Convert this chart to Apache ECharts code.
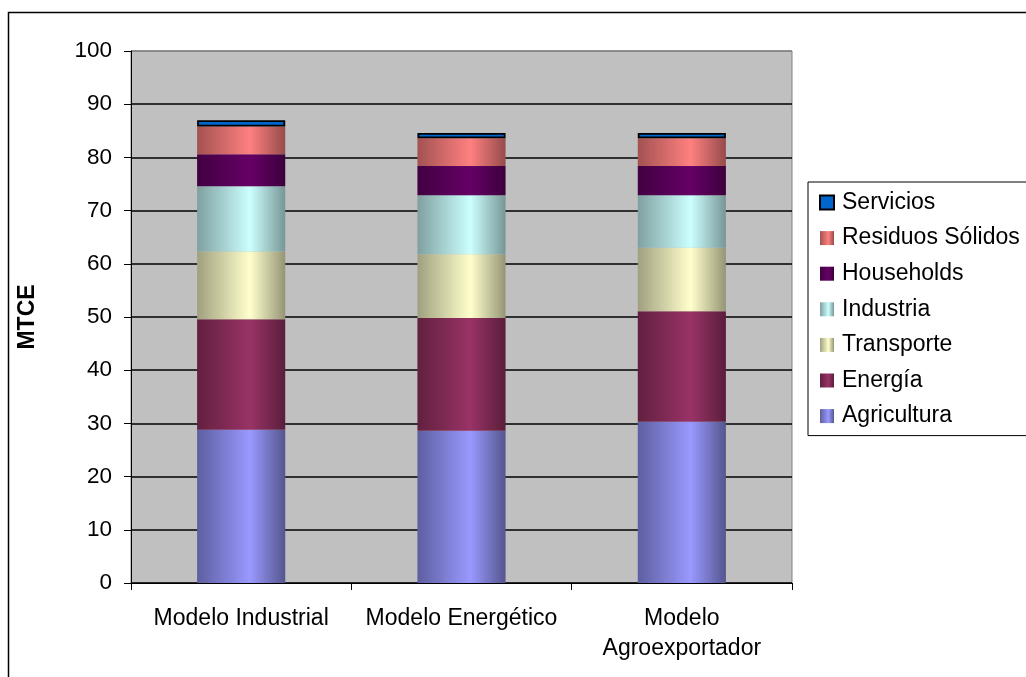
<!DOCTYPE html>
<html>
<head>
<meta charset="utf-8">
<script src="https://cdn.jsdelivr.net/npm/echarts@6/dist/echarts.min.js"></script>
<style>
  html, body { margin: 0; padding: 0; background: #fff; }
  #chart { width: 1026px; height: 677px; }
</style>
</head>
<body>
<div id="chart"></div>
<script>
// Emissions by scenario, stacked by sector (MTCE)
const categories = ['Modelo Industrial', 'Modelo Energético', 'Modelo\nAgroexportador'];
const yTicks = [0, 10, 20, 30, 40, 50, 60, 70, 80, 90, 100];

const agricultura = [28.8, 28.6, 30.3];
const energia     = [20.8, 21.2, 20.8];
const transporte  = [12.7, 12.0, 11.9];
const industria   = [12.3, 11.1, 9.9];
const households  = [6.0, 5.5, 5.5];
const residuos    = [5.2, 5.2, 5.2];
const servicios   = [1.2, 1.0, 1.0];

// Cylinder-like shading: dark edges, bright band a bit right of centre
function shade(edgeL, mid, edgeR) {
  return {
    type: 'linear', x: 0, y: 0, x2: 1, y2: 0,
    colorStops: [
      { offset: 0, color: edgeL },
      { offset: 0.6, color: mid },
      { offset: 1, color: edgeR }
    ]
  };
}

const seriesDefs = [
  { name: 'Agricultura', data: agricultura, color: shade('#5e5ea0', '#9999ff', '#55558e') },
  { name: 'Energía', data: energia, color: shade('#62203f', '#993366', '#5a1e3b') },
  { name: 'Transporte', data: transporte, color: shade('#a0a080', '#ffffcc', '#959576') },
  { name: 'Industria', data: industria, color: shade('#80a0a0', '#ccffff', '#789696') },
  { name: 'Households', data: households, color: shade('#420042', '#660066', '#3c003c') },
  { name: 'Residuos Sólidos', data: residuos, color: shade('#a35252', '#ff8080', '#964b4b') },
  { name: 'Servicios', data: servicios, color: '#0066cc', border: true }
];

const splitColors = yTicks.map(v => (v === 100 ? '#808080' : '#000000'));

const chart = echarts.init(document.getElementById('chart'), null, { renderer: 'canvas' });

chart.setOption({
  backgroundColor: '#ffffff',
  animation: false,
  textStyle: { fontFamily: 'Arial, "Liberation Sans", sans-serif' },
  graphic: [{
    type: 'rect',
    shape: { x: 8.5, y: 12.5, width: 1200, height: 800 },
    style: { fill: 'none', stroke: '#000', lineWidth: 1.5 },
    z: -10
  }],
  grid: {
    left: 131, right: 234, top: 51, bottom: 94,
    show: true, backgroundColor: '#c0c0c0', borderColor: '#808080', borderWidth: 1
  },
  legend: {
    orient: 'vertical',
    left: 808, top: 182,
    padding: [9, 60, 8, 11],
    itemGap: 12.6,
    itemWidth: 14, itemHeight: 14,
    icon: 'rect',
    backgroundColor: '#ffffff',
    borderColor: '#000000', borderWidth: 1,
    data: seriesDefs.map(s => s.name).reverse(),
    textStyle: { fontSize: 23, color: '#000', padding: [0, 0, 0, 3] }
  },
  xAxis: {
    type: 'category',
    data: categories,
    axisLine: { lineStyle: { color: '#000', width: 1 } },
    axisTick: { show: true, length: 7, lineStyle: { color: '#000' } },
    axisLabel: { color: '#000', fontSize: 23, lineHeight: 30, margin: 21, interval: 0 }
  },
  yAxis: {
    type: 'value',
    min: 0, max: 100, interval: 10,
    name: 'MTCE',
    nameLocation: 'middle',
    nameGap: 92,
    nameRotate: 90,
    nameTextStyle: { color: '#000', fontSize: 23, fontWeight: 'bold' },
    axisLine: { show: true, lineStyle: { color: '#000', width: 1 } },
    axisTick: { show: true, length: 7, lineStyle: { color: '#000' } },
    axisLabel: { color: '#000', fontSize: 22.5, margin: 19 },
    splitLine: { show: true, lineStyle: { color: splitColors, width: 1.5 } }
  },
  series: seriesDefs.map(s => ({
    name: s.name,
    type: 'bar',
    stack: 'total',
    barWidth: '40%',
    data: s.data,
    itemStyle: s.border
      ? { color: s.color, borderColor: '#000', borderWidth: 1.8 }
      : { color: s.color }
  }))
});
</script>
</body>
</html>
